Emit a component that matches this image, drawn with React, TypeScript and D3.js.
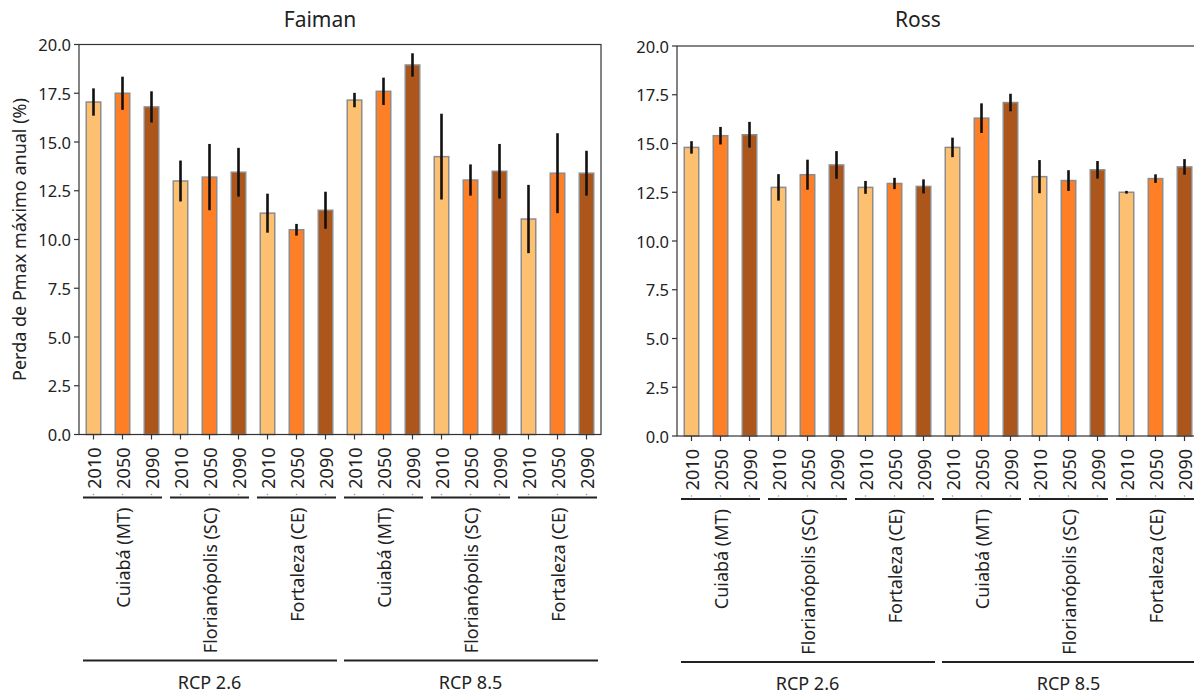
import React from "react"
import * as d3 from "d3"

// categories
const scenarios = ["RCP 2.6", "RCP 8.5"]
const cities = ["Cuiabá (MT)", "Florianópolis (SC)", "Fortaleza (CE)"]
const years = ["2010", "2050", "2090"]
const yTicks = [0, 2.5, 5, 7.5, 10, 12.5, 15, 17.5, 20]

// values in scenario > city > year order
const faimanMean = [17.05, 17.5, 16.8, 13.0, 13.2, 13.45, 11.35, 10.5, 11.5, 17.15, 17.6, 18.95, 14.25, 13.05, 13.5, 11.05, 13.4, 13.4]
const faimanErr = [0.7, 0.85, 0.8, 1.05, 1.7, 1.25, 1.0, 0.3, 0.95, 0.37, 0.7, 0.6, 2.2, 0.8, 1.4, 1.75, 2.05, 1.15]
const rossMean = [14.8, 15.4, 15.45, 12.75, 13.4, 13.9, 12.75, 12.95, 12.8, 14.8, 16.3, 17.1, 13.3, 13.1, 13.65, 12.5, 13.2, 13.8]
const rossErr = [0.32, 0.45, 0.66, 0.68, 0.77, 0.71, 0.33, 0.29, 0.36, 0.5, 0.76, 0.45, 0.85, 0.53, 0.45, 0.07, 0.22, 0.4]

const yearColors = ["#fdbf70", "#fe7f25", "#ad561c"]
const font = "'Noto Sans', sans-serif"
const ink = "#333"
const fs = 18

type PanelProps = {
  title: string
  mean: number[]
  err: number[]
  x0: number
  x1: number
  top: number
  bottom: number
  showYLabel?: boolean
}

const Panel = ({ title, mean, err, x0, x1, top, bottom, showYLabel }: PanelProps) => {
  const rows = d3.cross(scenarios, cities, years).map(([s, c, yr], i) => ({
    s, c, yr, i, v: mean[i], e: err[i],
  }))
  const x = d3.scaleBand<number>().domain(d3.range(rows.length)).range([x0, x1]).padding(0)
  const y = d3.scaleLinear().domain([0, 20]).range([bottom, top])
  const bandW = x.bandwidth()
  const bw = bandW * 0.5

  return (
    <g>
      <text x={x0 + 241} y={27} textAnchor="middle" fontSize={21} fill="#222" fontFamily={font}>
        {title}
      </text>
      {showYLabel && (
        <text
          transform={`translate(19 ${(top + bottom) / 2}) rotate(-90)`}
          textAnchor="middle"
          fontSize={fs}
          fill="#222"
          fontFamily={font}
          dominantBaseline="central"
        >
          Perda de Pmax máximo anual (%)
        </text>
      )}
      {/* bars */}
      {rows.map((d) => (
        <rect
          key={"b" + d.i}
          x={x(d.i)! + (bandW - bw) / 2}
          y={y(d.v)}
          width={bw}
          height={y(0) - y(d.v)}
          fill={yearColors[years.indexOf(d.yr)]}
          stroke="#8c8c8c"
          strokeWidth={1.5}
        />
      ))}
      {/* error bars */}
      {rows.map((d) => (
        <line
          key={"e" + d.i}
          x1={x(d.i)! + bandW / 2}
          x2={x(d.i)! + bandW / 2}
          y1={y(d.v - d.e)}
          y2={y(d.v + d.e)}
          stroke="#111"
          strokeWidth={2.6}
        />
      ))}
      {/* frame */}
      <rect x={x0} y={top} width={x1 - x0} height={bottom - top} fill="none" stroke={ink} strokeWidth={1.2} />
      {/* y ticks */}
      {yTicks.map((t) => (
        <g key={"y" + t}>
          <line x1={x0 - 5} x2={x0} y1={y(t)} y2={y(t)} stroke={ink} strokeWidth={1.2} />
          <text x={x0 - 8} y={y(t)} textAnchor="end" dominantBaseline="central" fontSize={16.5} fill="#222" fontFamily={font}>
            {d3.format(".1f")(t)}
          </text>
        </g>
      ))}
      {/* x ticks (years) */}
      {rows.map((d) => {
        const cx = x(d.i)! + bandW / 2
        return (
          <g key={"x" + d.i}>
            <line x1={cx} x2={cx} y1={bottom} y2={bottom + 5} stroke={ink} strokeWidth={1.2} />
            <text
              transform={`translate(${cx} ${bottom + 13}) rotate(-90)`}
              textAnchor="end"
              dominantBaseline="central"
              fontSize={fs}
              fill="#222"
              fontFamily={font}
            >
              {d.yr}
            </text>
            <circle cx={cx} cy={bottom + 60} r={0.8} fill="#999" />
          </g>
        )
      })}
      {/* city groups */}
      {d3.cross(scenarios, cities).map(([s, c], gi) => {
        const gx0 = x(gi * 3)!
        const gx1 = x(gi * 3 + 2)! + bandW
        return (
          <g key={"c" + gi}>
            <line x1={gx0 + 4} x2={gx1 - 4} y1={bottom + 63} y2={bottom + 63} stroke="#222" strokeWidth={2} />
            <text
              transform={`translate(${(gx0 + gx1) / 2} ${bottom + 73}) rotate(-90)`}
              textAnchor="end"
              dominantBaseline="central"
              fontSize={fs}
              fill="#222"
              fontFamily={font}
            >
              {c}
            </text>
          </g>
        )
      })}
      {/* scenario groups */}
      {scenarios.map((s, si) => {
        const gx0 = x(si * 9)!
        const gx1 = x(si * 9 + 8)! + bandW
        return (
          <g key={"s" + si}>
            <line x1={gx0 + 4} x2={gx1 - 3} y1={bottom + 226} y2={bottom + 226} stroke="#222" strokeWidth={2} />
            <text x={(gx0 + gx1) / 2} y={bottom + 247} textAnchor="middle" dominantBaseline="central" fontSize={fs} fill="#222" fontFamily={font}>
              {s}
            </text>
          </g>
        )
      })}
    </g>
  )
}

export default function App() {
  return (
    <svg
      width={1194}
      height={693}
      style={{ position: "absolute", left: 0, top: 0, background: "#fff" }}
    >
      <Panel title="Faiman" mean={faimanMean} err={faimanErr} x0={79} x1={601} top={44.5} bottom={434.5} showYLabel />
      <Panel title="Ross" mean={rossMean} err={rossErr} x0={677} x1={1199} top={46} bottom={436} />
    </svg>
  )
}
